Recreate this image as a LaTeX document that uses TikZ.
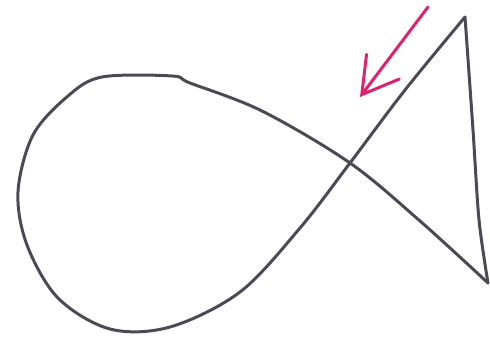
\documentclass[tikz,border=0pt]{standalone}
\usepackage{tikz}
\usepackage{xcolor}
\usetikzlibrary{arrows.meta}
\definecolor{fishgray}{HTML}{4A4A55}
\definecolor{fishpink}{HTML}{E0226E}

\begin{document}
\begin{tikzpicture}[
        x=0.02cm, y=-0.02cm,
        outline/.style={
          draw=fishgray,
          line width=1.7pt,
          line cap=round,
          line join=round
        },
        pointer/.style={
          -{Straight Barb[length=0.7cm, width=0.82cm, line cap=round]},
          line width=1.7pt,
          line cap=round,
          fishpink
        }
      ]

      \useasboundingbox (0,0) rectangle (490,340);

      \coordinate (apex) at (465,17);
      \coordinate (cross) at (350,163);
      \coordinate (tail) at (488,283);
      \coordinate (start) at (428,7);
      \coordinate (tip) at (360,97);

      % body loop
      \draw[outline] plot[smooth, tension=0.55] coordinates {
        (465,17) (405,90) (350,163) (300,228) (240,292) (170,327) (110,329)
        (58,298) (27,245) (18,192) (33,135) (68,96) (102,77) (172,76)
        (190,83) (262,111) (350,163) (420,221) (488,283)};

      % tail edge
      \draw[outline] plot[smooth, tension=0.5] coordinates {
        (488,283) (479,220) (473,130) (465,17)};

      % arrow
      \draw[pointer] (start) -- (tip);

      \end{tikzpicture}
\end{document}
